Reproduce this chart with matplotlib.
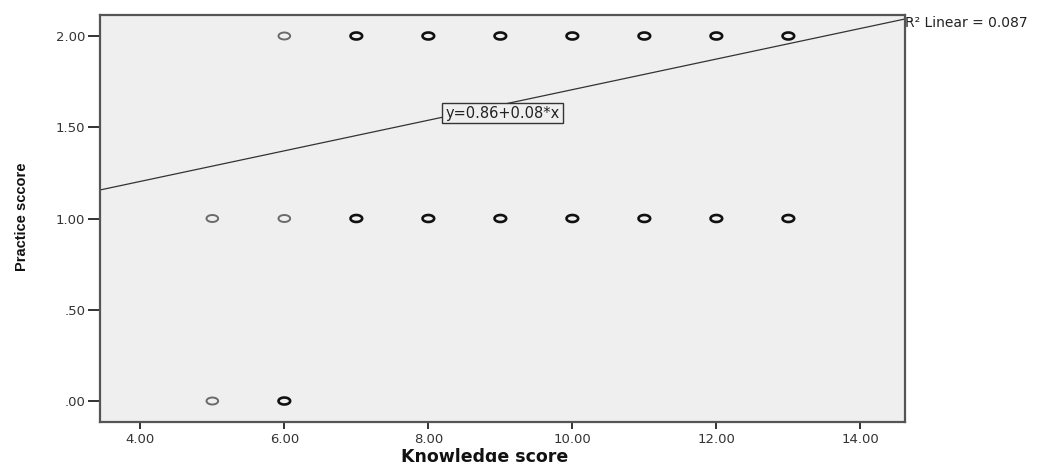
import numpy as np
import matplotlib
matplotlib.use("Agg")
import matplotlib.pyplot as plt
from matplotlib.path import Path

# data
# single (light) points
x_light = [6, 5, 6, 5]
y_light = [2, 1, 1, 0]
# overplotted (dark) points
x_dark = [7, 8, 9, 10, 11, 12, 13, 7, 8, 9, 10, 11, 12, 13, 6]
y_dark = [2, 2, 2, 2, 2, 2, 2, 1, 1, 1, 1, 1, 1, 1, 0]

fit_intercept = 0.868
fit_slope = 0.0838
eq_label = "y=0.86+0.08*x"
r2_label = "R\u00b2 Linear = 0.087"

x_ticks = [4, 6, 8, 10, 12, 14]
y_ticks = [0, 0.5, 1.0, 1.5, 2.0]
y_ticklabels = [".00", ".50", "1.00", "1.50", "2.00"]

# the export is stretched sideways, DejaVu is the wider face
plt.rcParams['font.family'] = ['DejaVu Sans']

# slightly flattened circle, like the stretched SPSS export
t = np.linspace(0, 2 * np.pi, 40)
ellipse = Path(np.column_stack([np.cos(t), 0.6 * np.sin(t)]), closed=True)

fig = plt.figure(figsize=(10.5, 4.62), dpi=100)
ax = fig.add_axes([100 / 1050, 40 / 462, 805 / 1050, 407 / 462])
ax.set_facecolor('#efefef')

xmin, xmax = 3.44, 14.62
ax.set_xlim(xmin, xmax)
ax.set_ylim(-0.115, 2.115)

ax.scatter(x_light, y_light, marker=ellipse, s=70, facecolors='none',
           edgecolors='#6a6a6a', linewidths=1.4, zorder=3)
ax.scatter(x_dark, y_dark, marker=ellipse, s=70, facecolors='none',
           edgecolors='#111111', linewidths=1.9, zorder=3)

xs = np.array([xmin, xmax])
ax.plot(xs, fit_intercept + fit_slope * xs, color='#333333', lw=0.9, zorder=2)

ax.text(9.03, 1.578, eq_label, ha='center', va='center', fontsize=10.5,
        color='#222222', zorder=4,
        bbox=dict(boxstyle='square,pad=0.2', fc='#efefef', ec='#333333', lw=1.0))
ax.text(xmax, 2.072, r2_label, ha='left', va='center', fontsize=10,
        color='#222222', clip_on=False)

ax.set_xticks(x_ticks)
ax.set_xticklabels([f"{v:.2f}" for v in x_ticks])
ax.set_yticks(y_ticks)
ax.set_yticklabels(y_ticklabels)
ax.tick_params(direction='out', width=1.4, color='#333333',
               labelsize=9.5, labelcolor='#333333')
ax.tick_params(axis='x', length=5, pad=3)
ax.tick_params(axis='y', length=9, pad=1.5)
for s in ax.spines.values():
    s.set_color('#555555')
    s.set_linewidth(1.6)

fig.text(485 / 1050, 0.0, "Knowledge score", ha='center', va='baseline',
         fontsize=12.5, fontweight='bold', color='#111111')
fig.text(22 / 1050, (462 - 217) / 462, "Practice sccore", rotation=90,
         ha='center', va='center', fontsize=10.5, fontweight='bold',
         color='#111111', family=['Liberation Sans', 'DejaVu Sans'])

fig.savefig("out.png", dpi=100)
